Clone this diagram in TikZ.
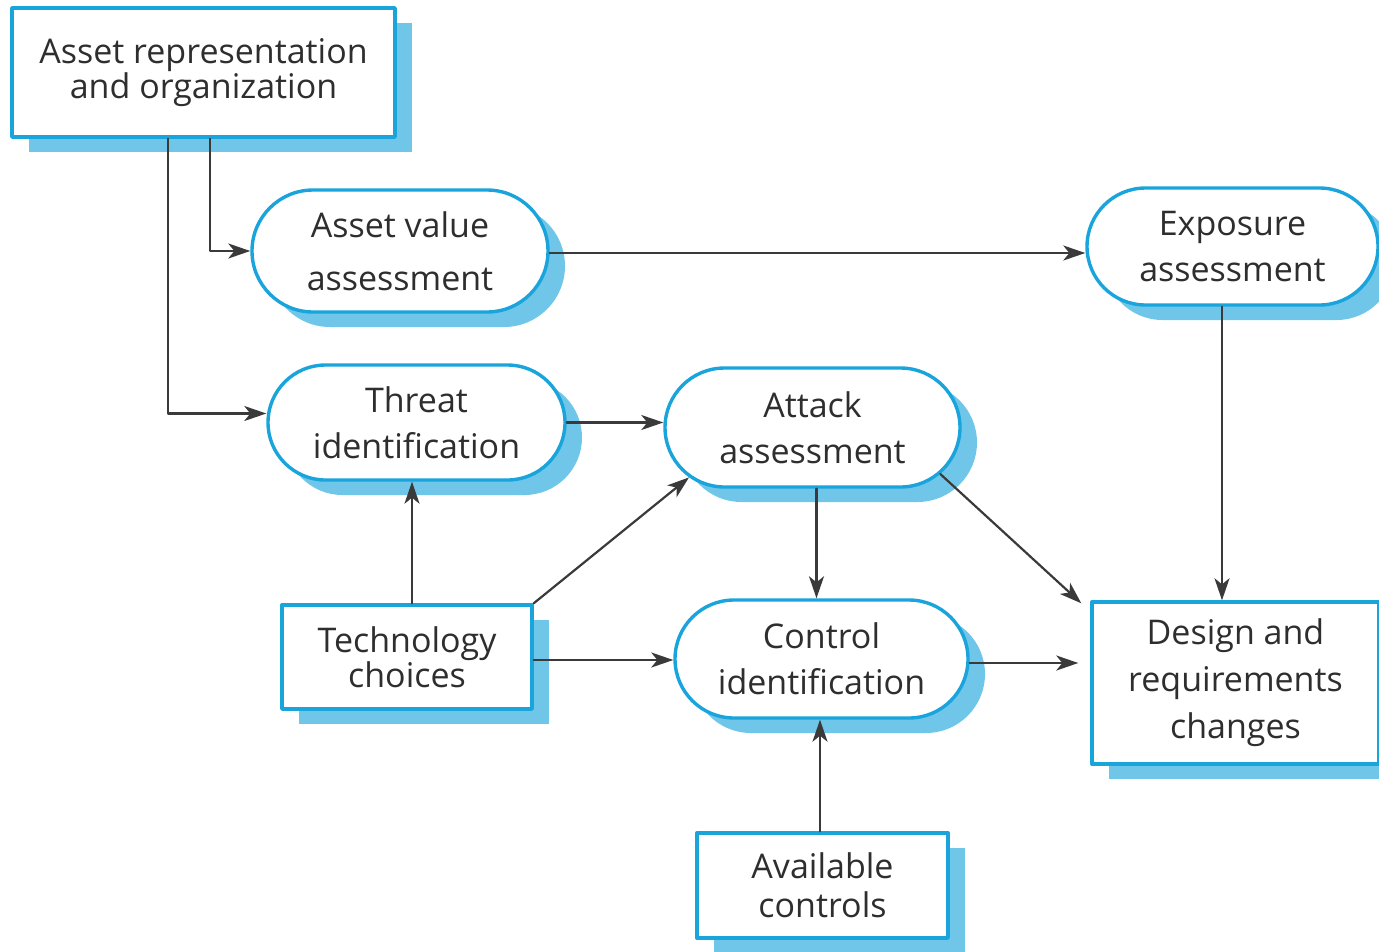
\documentclass[tikz,border=0pt]{standalone}
\usepackage{fontspec}
\setmainfont{Open Sans}
\usepackage{tikz}
\usetikzlibrary{arrows.meta,shapes.misc,shadows,calc}
\definecolor{frame}{HTML}{1AA4DC}
\definecolor{shade}{HTML}{70C6E8}
\definecolor{ink}{HTML}{2E2E2E}
\definecolor{line}{HTML}{3A3A3A}

\begin{document}
\begin{tikzpicture}[x=1pt,y=-1pt,line cap=round,line join=round,
    base/.style={draw=frame,line width=3.4pt,fill=white,text=ink,align=center,
      general shadow={fill=shade,shadow xshift=17pt,shadow yshift=-15pt},
      inner sep=0pt},
    boxnode/.style={base,rectangle,font=\fontsize{34}{35}\selectfont},
    roundnode/.style={base,rounded rectangle,font=\fontsize{34}{46}\selectfont},
    link/.style={line,line width=2.2pt,-{Stealth[length=22pt,width=15pt,inset=6pt]}}]
  \useasboundingbox (0,0) rectangle (1379,951);
  % boxes
  \node[boxnode,minimum width=383pt,minimum height=129pt] (assetrep) at (203.5,72.5)
    {Asset representation\\and organization};
  \node[boxnode,minimum width=250pt,minimum height=104pt] (tech) at (407,657)
    {Technology\\choices};
  \node[boxnode,minimum width=287pt,minimum height=162pt,
    font=\fontsize{34}{47}\selectfont] (design) at (1235.5,683)
    {Design and\\requirements\\changes};
  \node[boxnode,minimum width=251pt,minimum height=105pt,
    font=\fontsize{34}{39}\selectfont] (avail) at (822.5,885.5)
    {Available\\controls};
  % rounded steps
  \node[roundnode,minimum width=296pt,minimum height=122pt,
    font=\fontsize{34}{53}\selectfont] (assetval) at (400,251) {Asset value\\assessment};
  \node[roundnode,minimum width=291pt,minimum height=117pt] (exposure) at (1232.5,246.5)
    {Exposure\\assessment};
  \node[roundnode,minimum width=297pt,minimum height=115pt] (threat) at (416.5,422.5)
    {Threat\\identification};
  \node[roundnode,minimum width=295pt,minimum height=119pt] (attack) at (812.5,427.5)
    {Attack\\assessment};
  \node[roundnode,minimum width=293pt,minimum height=118pt] (control) at (821.5,659)
    {Control\\identification};
  % connectors
  \draw[link] ([xshift=-35.5pt]assetrep.south) |- ([yshift=9pt]threat.west);
  \draw[link] ([xshift=6.5pt]assetrep.south) |- (assetval.west);
  \draw[link] ([yshift=-2pt]assetval.east) -- ([yshift=-2pt]assetval.east -| exposure.west);
  \draw[link] (threat.east) -- (threat.east -| attack.west);
  \draw[link] ([xshift=5pt]tech.north) -- ([xshift=5pt]tech.north |- threat.south);
  \draw[link] (tech.north east) -- (attack.202);
  \draw[link] ([yshift=-3pt]tech.east) -- ([yshift=-3pt]tech.east -| control.west);
  \draw[link] ([xshift=4pt]attack.south) -- ([xshift=4pt]attack.south |- control.north);
  \draw[link] (attack.340) -- ([xshift=-9pt,yshift=-3pt]design.north west);
  \draw[link] ([xshift=-10.5pt]exposure.south) -- ([xshift=-10.5pt]exposure.south |- design.north);
  \draw[link] ([yshift=-4pt]control.east) -- ([yshift=-4pt,xshift=-12pt]control.east -| design.west);
  \draw[link] ([xshift=-2.5pt]avail.north) -- ([xshift=-2.5pt]avail.north |- control.south);
\end{tikzpicture}
\end{document}
